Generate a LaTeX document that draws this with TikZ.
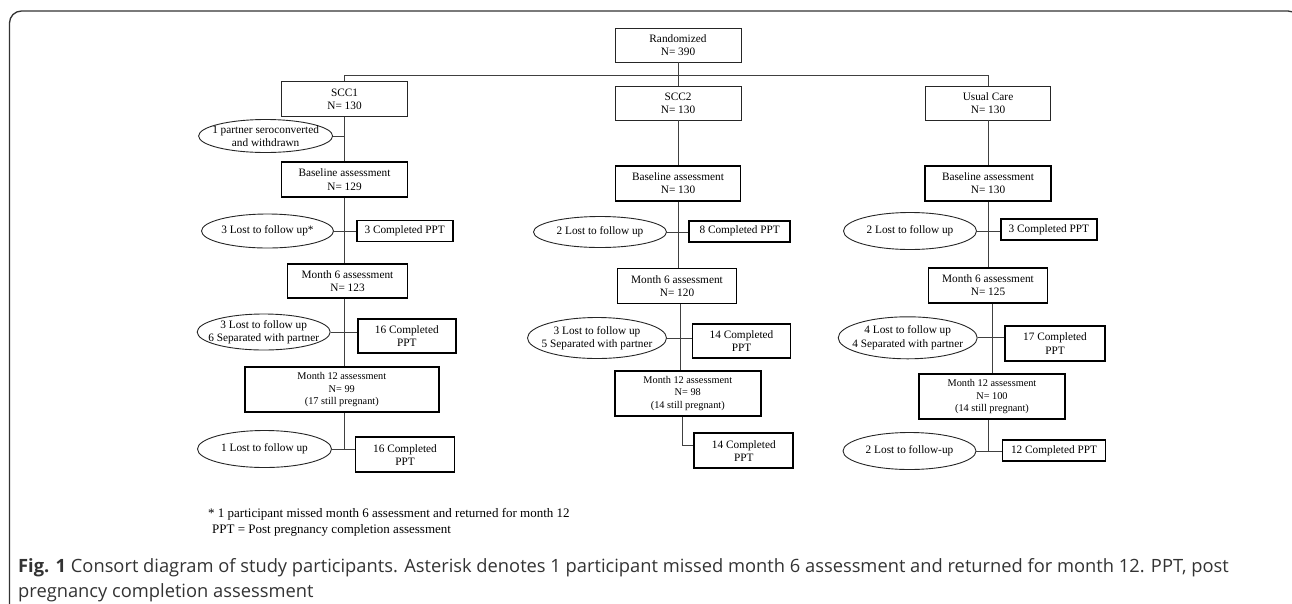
\documentclass[tikz,border=0pt]{standalone}
\usepackage{fontspec}
\setmainfont{Liberation Serif}
\newfontfamily\capfont{Open Sans}
\usetikzlibrary{shapes.geometric,calc}
\begin{document}
\begin{tikzpicture}[x=1pt,y=-1pt,
  every node/.style={inner sep=0pt, font=\fontsize{11.3}{13.3}\selectfont, align=center, text=black},
  thinbox/.style={draw=black!85, line width=0.9pt, rectangle},
  thickbox/.style={draw=black, line width=1.9pt, rectangle},
  oval/.style={draw=black!85, line width=0.9pt, ellipse, inner xsep=-25pt, inner ysep=-8pt},
  link/.style={draw=black!75, line width=1pt},
  mtw/.style={font=\fontsize{10.3}{12.5}\selectfont},
  sz/.style 2 args={minimum width=#1pt, minimum height=#2pt},
  captext/.style={anchor=base west, font=\capfont\fontsize{18.3}{24}\selectfont, text=black!80},
  foot/.style={anchor=west, font=\fontsize{13}{15}\selectfont}
]
\useasboundingbox (0,0) rectangle (1292,603);
\draw[line width=1.3pt, draw=black!80, rounded corners=12pt] (9.5,620) -- (9.5,11) -- (1300,11) -- (1300,620);

% top
\node[thinbox, sz={126}{34}] (rand) at (678,45) {Randomized\\N= 390};
\node[thinbox, sz={126}{35}] (scc1) at (344.5,99.2) {SCC1\\N= 130};
\node[thinbox, sz={126}{34}] (scc2) at (678,103) {SCC2\\N= 130};
\node[thinbox, sz={125}{34}] (uc) at (988,103) {Usual Care\\N= 130};

\node[oval, sz={134}{33}] (e1) at (265.6,136) {1 partner seroconverted\\and withdrawn};

\node[thickbox, sz={126}{34.5}] (b1) at (344.5,179.5) {Baseline assessment\\N= 129};
\node[thickbox, sz={125}{35}] (b2) at (678,183.3) {Baseline assessment\\N= 130};
\node[thickbox, sz={126}{35}] (b3) at (988,183.3) {Baseline assessment\\N= 130};

% row 2
\node[oval, sz={132}{34}] (e21) at (267.5,231) {3 Lost to follow up*};
\node[thickbox, sz={96}{21}] (c21) at (404.7,231) {3 Completed PPT};
\node[oval, sz={133}{31}] (e22) at (600,232) {2 Lost to follow up};
\node[thickbox, sz={101}{21}] (c22) at (739.7,231.2) {8 Completed PPT};
\node[oval, sz={133}{37}] (e23) at (910,231) {2 Lost to follow up};
\node[thickbox, sz={96}{21}] (c23) at (1048.8,229.5) {3 Completed PPT};

% month 6
\node[thickbox, sz={120}{34}] (m61) at (347.5,281.3) {Month 6 assessment\\N= 123};
\node[thickbox, sz={119}{35}] (m62) at (677,286) {Month 6 assessment\\N= 120};
\node[thickbox, sz={119}{35}] (m63) at (988,285.2) {Month 6 assessment\\N= 125};

% row 4
\node[oval, sz={133}{36}] (e41) at (263.7,332) {3 Lost to follow up\\6 Separated with partner};
\node[thickbox, sz={98}{34}] (c41) at (406.8,336) {16 Completed\\PPT};
\node[oval, sz={139}{41}] (e42) at (597,338) {3 Lost to follow up\\5 Separated with partner};
\node[thickbox, sz={98}{34}] (c42) at (741.5,341.2) {14 Completed\\PPT};
\node[oval, sz={139}{42}] (e43) at (907.7,337.8) {4 Lost to follow up\\4 Separated with partner};
\node[thickbox, sz={100}{35}] (c43) at (1055,343.5) {17 Completed\\PPT};

% month 12
\node[thickbox, mtw, sz={194}{45}] (m121) at (341.8,389.7) {Month 12 assessment\\N= 99\\(17 still pregnant)};
\node[thickbox, mtw, sz={146}{45}] (m122) at (687.8,393.3) {Month 12 assessment\\N= 98\\(14 still pregnant)};
\node[thickbox, mtw, sz={146}{45}] (m123) at (992,396.7) {Month 12 assessment\\N= 100\\(14 still pregnant)};

% row 6
\node[oval, sz={134}{37}] (e61) at (264.5,449) {1 Lost to follow up};
\node[thickbox, sz={99}{35}] (c61) at (405,454.8) {16 Completed\\PPT};
\node[thickbox, sz={99}{35}] (c62) at (743.8,450.8) {14 Completed\\PPT};
\node[oval, sz={133}{37}] (e63) at (909.5,451) {2 Lost to follow-up};
\node[thickbox, sz={103}{21}] (c63) at (1054,450.5) {12 Completed PPT};

% connectors
\coordinate (br) at (678,75);
\draw[link] (rand.south) -- (scc2.north);
\draw[link] (scc1.north) -- (scc1.north |- br) -- (uc.north |- br) -- (uc.north);

\draw[link] (scc1.south) -- (b1.north);
\draw[link] (e1.east) -- (e1.east -| b1.north);
\draw[link] (b1.south) -- (b1.south |- m61.north);
\draw[link] (e21.east) -- (c21.west);
\draw[link] (b1.south |- m61.south) -- (b1.south |- m121.north);
\draw[link] (e41.east) -- (e41.east -| c41.west);
\draw[link] (b1.south |- m121.south) -- (b1.south |- e61.east);
\draw[link] (e61.east) -- (e61.east -| c61.west);

\draw[link] (scc2.south) -- (b2.north);
\draw[link] (b2.south) -- (b2.south |- m62.north);
\draw[link] (e22.east) -- (e22.east -| c22.west);
\draw[link] ($(m62.south)+(3.5,0)$) -- ($(m62.south |- m122.north)+(3.5,0)$);
\draw[link] (e42.east) -- (e42.east -| c42.west);
\draw[link] ($(m122.south)+(-5.5,0)$) |- ($(c62.west)+(0,-5)$);

\draw[link] (uc.south) -- (b3.north);
\draw[link] (b3.south) -- (b3.south |- m63.north);
\draw[link] (e23.east) -- (e23.east -| c23.west);
\draw[link] (m123.north |- m63.south) -- (m123.north);
\draw[link] (e43.east) -- (e43.east -| c43.west);
\draw[link] (b3.south |- m123.south) -- (b3.south |- e63.east);
\draw[link] (e63.east) -- (e63.east -| c63.west);

% footnotes
\node[foot] (fn1) at (208,514) {* 1 participant missed month 6 assessment and returned for month 12};
\node[foot] (fn2) at (212,530) {PPT = Post pregnancy completion assessment};

% caption
\node[captext] (cap1) at (18,572) {\textbf{Fig. 1} Consort diagram of study participants. Asterisk denotes 1 participant missed month 6 assessment and returned for month 12. PPT, post};
\node[captext] (cap2) at (18,597) {pregnancy completion assessment};
\end{tikzpicture}
\end{document}
